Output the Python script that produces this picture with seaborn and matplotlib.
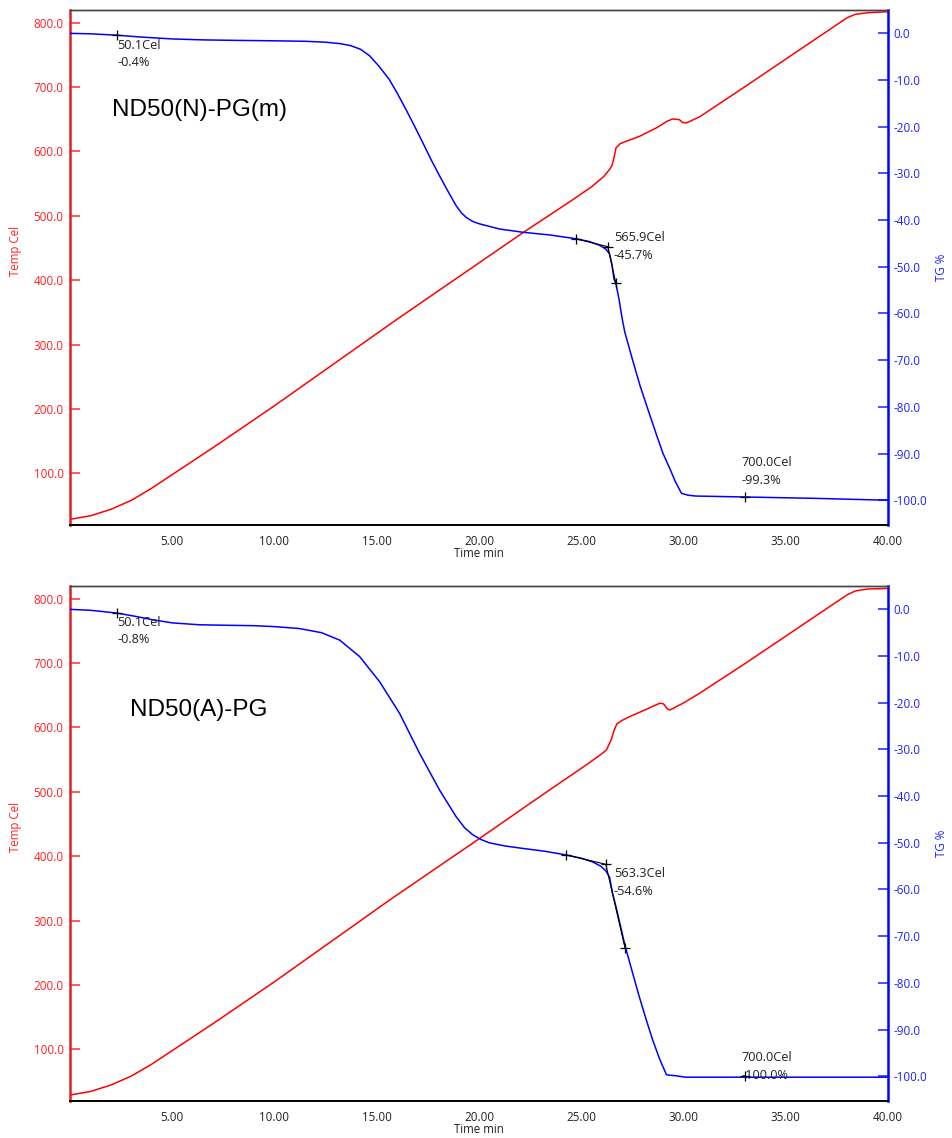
import matplotlib
matplotlib.use("Agg")
import matplotlib.pyplot as plt
import seaborn as sns

sns.set_style("white")
plt.rcParams['font.family'] = ['Open Sans', 'DejaVu Sans']

# ---------------- data (top panel: ND50(N)-PG(m)) ----------------
top_tg_t = [0, 1, 2.3, 3.5, 5, 6.5, 8, 10, 11.5, 12.5, 13.2, 13.7, 14.2, 14.65, 15.1, 15.6, 16.0,
            16.44, 16.85, 17.25, 17.65, 18.07, 18.48, 18.88, 19.15, 19.37, 19.7, 20.02, 21.0,
            22.14, 23.5, 24.75, 25.4, 25.9, 26.2, 26.38, 26.5, 26.6, 26.69, 26.85, 27.0, 27.13,
            27.5, 27.87, 28.28, 28.68, 29.0, 29.33, 29.6, 29.9, 30.2, 30.6, 33.0, 36.5, 40.0]
top_tg = [0.0, -0.1, -0.4, -0.8, -1.2, -1.4, -1.5, -1.6, -1.7, -1.9, -2.2, -2.6, -3.4, -4.8,
          -7.0, -9.8, -12.8, -16.4, -19.9, -23.4, -27.0, -30.5, -33.8, -36.9, -38.5, -39.4,
          -40.3, -40.8, -41.9, -42.6, -43.2, -44.0, -44.6, -45.4, -46.2, -47.2, -49.5, -52.6,
          -53.5, -57.0, -61.1, -64.0, -69.8, -75.4, -80.8, -86.0, -90.0, -93.2, -96.0, -98.5,
          -98.9, -99.1, -99.3, -99.6, -100.0]
top_temp_t = [0, 1, 2, 3, 4, 5, 6, 7, 10, 16.05, 22.14, 24.6, 25.5, 26.1,
              26.38, 26.5, 26.58, 26.65, 26.7, 26.9, 27.2, 27.85, 28.7, 29.2, 29.48, 29.8,
              29.95, 30.13, 30.4, 30.78, 33.0, 38.0, 38.4, 39.0, 40.0]
top_temp = [28.5, 34, 44, 58, 77, 98, 119, 140, 205, 340.6, 473.6, 525.3, 545, 561,
            571.8, 578, 587, 598, 605.5, 612, 615.8, 623.5, 637, 647, 650.5, 649.4, 645,
            644.3, 648, 653.6, 700.5, 807.7, 813, 815.5, 817]
top_mark_t = [2.3, 24.75, 26.3, 26.69, 33.0]
top_mark_tg = [-0.4, -44.0, -45.7, -53.5, -99.3]
top_tan_t = [24.75, 26.3, 26.69]
top_tan_tg = [-44.0, -45.7, -53.5]
top_labels = ["50.1Cel\n-0.4%", "565.9Cel\n-45.7%", "700.0Cel\n-99.3%"]
top_label_t = [2.3, 26.6, 32.85]
top_label_tg = [-1.2, -42.4, -90.6]
top_title = "ND50(N)-PG(m)"

# ---------------- data (bottom panel: ND50(A)-PG) ----------------
bot_tg_t = [0, 1, 2.3, 3.2, 4.0, 5, 6.3, 7.5, 9, 10, 11.2, 12.3, 13.19, 14.16, 15.14, 16.12,
            17.09, 18.07, 18.88, 19.3, 19.7, 20.1, 20.5, 21.3, 22.14, 23.2, 24.26, 25.0, 25.56,
            25.95, 26.2, 26.38, 26.53, 26.7, 27.15, 27.5, 27.84, 28.2, 28.49, 28.85, 29.17,
            29.63, 30.1, 35.0, 40.0]
bot_tg = [0.0, -0.2, -0.8, -1.5, -2.2, -2.9, -3.3, -3.4, -3.5, -3.7, -4.1, -5.0, -6.6, -10.1,
          -15.5, -22.3, -30.8, -38.7, -44.4, -46.8, -48.3, -49.3, -50.0, -50.7, -51.2, -51.8,
          -52.6, -53.3, -54.1, -55.0, -56.0, -57.3, -60.8, -63.7, -72.2, -77.7, -83.0, -88.2,
          -92.2, -96.5, -99.7, -99.9, -100.2, -100.2, -100.2]
bot_temp_t = [0, 1, 2, 3, 4, 5, 6, 7, 10, 15.7, 20.04, 22.97, 25.3, 26.0,
              26.23, 26.46, 26.6, 26.74, 27.0, 27.36, 28.1, 28.83, 29.0, 29.07, 29.2, 29.32,
              29.5, 29.64, 30.0, 30.78, 33.0, 38.0, 38.4, 39.0, 40.0]
bot_temp = [29, 34.5, 44.5, 58.5, 77, 98, 119, 140, 205, 333.5, 427.8, 492.4, 543, 559, 565,
            580.5, 595, 605.4, 611, 616.7, 627, 637.5, 637, 634.9, 629, 627.1, 629.5, 632.2,
            638, 653, 699, 806, 812, 815, 816]
bot_mark_t = [2.3, 24.26, 26.2, 27.14, 33.0]
bot_mark_tg = [-0.8, -52.6, -54.6, -72.5, -100.0]
bot_tan_t = [24.26, 26.2, 27.14]
bot_tan_tg = [-52.6, -54.6, -72.5]
bot_labels = ["50.1Cel\n-0.8%", "563.3Cel\n-54.6%", "700.0Cel\n-100.0%"]
bot_label_t = [2.3, 26.6, 32.85]
bot_label_tg = [-1.4, -55.2, -94.6]
bot_title = "ND50(A)-PG"

x_ticks = [5, 10, 15, 20, 25, 30, 35, 40]
temp_ticks = [100, 200, 300, 400, 500, 600, 700, 800]
tg_ticks = [0, -10, -20, -30, -40, -50, -60, -70, -80, -90, -100]

RED = '#ff0000'
BLUE = '#0000ff'
TXT = '#222222'

W, H = 952, 1138
fig = plt.figure(figsize=(W / 100, H / 100), dpi=100)


def panel(rect, tt, temp, gt, tg, mt, mg, tant, tang, labels, lt, lg, title, title_xy):
    ax = fig.add_axes(rect)
    ax2 = ax.twinx()
    sns.lineplot(x=tt, y=temp, ax=ax, color=RED, lw=1.1, sort=False)
    sns.lineplot(x=gt, y=tg, ax=ax2, color=BLUE, lw=1.1, sort=False)
    ax2.plot(tant, tang, color='black', lw=0.8)
    ax2.plot(mt, mg, ls='none', marker='+', color='black', ms=7, mew=0.9)
    for s, x, y in zip(labels, lt, lg):
        ax2.text(x, y, s, ha='left', va='top', fontsize=9.2, color=TXT, linespacing=1.45)
    ax.text(title_xy[0], title_xy[1], title, transform=ax.transAxes, ha='left', va='center',
            fontsize=17.5, family=['Liberation Sans', 'DejaVu Sans'], color='black')

    ax.set_xlim(0, 40)
    ax.set_ylim(19.7, 819.7)
    ax2.set_ylim(-105.3, 5.0)
    ax.set_xticks(x_ticks)
    ax.set_xticklabels([f"{v:.2f}" for v in x_ticks])
    ax.set_yticks(temp_ticks)
    ax.set_yticklabels([f"{v:.1f}" for v in temp_ticks])
    ax2.set_yticks(tg_ticks)
    ax2.set_yticklabels([f"{v:.1f}" for v in tg_ticks])

    ax.tick_params(axis='x', direction='in', length=6.5, width=1.0, color='#555555',
                   labelcolor=TXT, labelsize=8.4, pad=7)
    ax.tick_params(axis='y', direction='in', length=7, width=1.2, color='#ff4040',
                   labelcolor='#ff2020', labelsize=8.4, pad=4.5)
    ax2.tick_params(axis='y', direction='in', length=7, width=1.2, color='#3030ff',
                    labelcolor='#2020ff', labelsize=8.4, pad=4)

    ax.set_xlabel("Time min", fontsize=8.3, color=TXT)
    ax.xaxis.set_label_coords(0.5, -0.043)
    ax.set_ylabel("Temp Cel", fontsize=8.3, color='#ff2020')
    ax.yaxis.set_label_coords(-0.0585, 0.533)
    ax2.set_ylabel("TG %", fontsize=8.3, color='#2020ff')
    ax2.yaxis.set_label_coords(1.057, 0.5)

    for a in (ax, ax2):
        a.spines['top'].set_color('#444444')
        a.spines['top'].set_linewidth(1.0)
        a.spines['bottom'].set_color('black')
        a.spines['bottom'].set_linewidth(1.2)
    ax.spines['left'].set_color('#e02020')
    ax.spines['left'].set_linewidth(1.8)
    ax.spines['right'].set_visible(False)
    ax2.spines['left'].set_visible(False)
    ax2.spines['right'].set_color('#0000ff')
    ax2.spines['right'].set_linewidth(1.8)
    ax.grid(False)
    ax2.grid(False)
    return ax, ax2


panel([70 / W, 1 - 525 / H, 818 / W, 515 / H], top_temp_t, top_temp, top_tg_t, top_tg,
      top_mark_t, top_mark_tg, top_tan_t, top_tan_tg, top_labels, top_label_t, top_label_tg,
      top_title, (0.0513, 0.806))
panel([70 / W, 1 - 1101 / H, 818 / W, 515 / H], bot_temp_t, bot_temp, bot_tg_t, bot_tg,
      bot_mark_t, bot_mark_tg, bot_tan_t, bot_tan_tg, bot_labels, bot_label_t, bot_label_tg,
      bot_title, (0.073, 0.759))

fig.savefig("out.png", dpi=100)
